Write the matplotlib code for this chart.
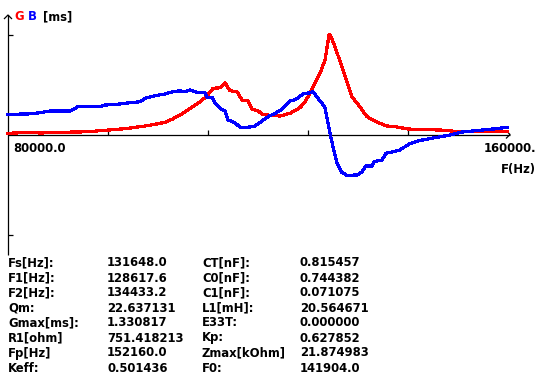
import numpy as np
import matplotlib
matplotlib.use("Agg")
import matplotlib.pyplot as plt

W, H = 538, 382

# frequency sweep in Hz, conductance G and susceptance B in mS
freq_g = [80000, 83520, 85120, 88320, 93120, 94720, 97600, 99520, 101920, 103520,
          105120, 106240, 107520, 109120, 110720, 111840, 112800, 113920, 114720, 115520,
          116640, 117440, 118400, 119040, 120000, 120640, 121920, 123520, 125120, 126720,
          127520, 128320, 129120, 129920, 130720, 131360, 131520, 132000, 133120, 134240,
          135040, 136320, 137440, 139040, 140640, 142240, 144000, 145920, 149120, 152320,
          159840]
g_ms = [0.016, 0.029, 0.020, 0.029, 0.037, 0.051, 0.069, 0.086, 0.113, 0.136,
        0.162, 0.202, 0.259, 0.348, 0.436, 0.512, 0.614, 0.622, 0.689, 0.583,
        0.569, 0.459, 0.450, 0.335, 0.317, 0.269, 0.255, 0.246, 0.282, 0.357,
        0.436, 0.548, 0.681, 0.814, 0.991, 1.324, 1.324, 1.235, 0.978, 0.702,
        0.503, 0.366, 0.237, 0.166, 0.113, 0.100, 0.073, 0.066, 0.060, 0.037,
        0.037]

freq_b = [80000, 83200, 85120, 86720, 89920, 91200, 94720, 95520, 97920, 99520,
          101120, 101920, 103520, 105120, 105920, 107200, 108480, 109120, 110080, 111520,
          111840, 112640, 113120, 113920, 114720, 115200, 116320, 117120, 118400, 119520,
          120640, 121600, 122720, 123840, 125120, 126080, 127200, 128320, 128800, 129600,
          130240, 130720, 131520, 132000, 132640, 133440, 134240, 135840, 136640, 137280,
          138240, 138560, 139840, 140480, 141600, 142720, 143520, 144320, 145920, 148000,
          150720, 152640, 155040, 157600, 159840]
b_ms = [0.269, 0.273, 0.290, 0.313, 0.313, 0.370, 0.370, 0.392, 0.406, 0.423,
        0.436, 0.481, 0.516, 0.539, 0.561, 0.579, 0.575, 0.592, 0.565, 0.556,
        0.495, 0.495, 0.415, 0.348, 0.313, 0.193, 0.157, 0.096, 0.096, 0.113,
        0.180, 0.237, 0.282, 0.335, 0.446, 0.468, 0.539, 0.556, 0.570, 0.481,
        0.415, 0.353, 0.016, -0.162, -0.383, -0.508, -0.543, -0.539, -0.495, -0.419,
        -0.419, -0.362, -0.339, -0.250, -0.229, -0.206, -0.162, -0.120, -0.080, -0.047,
        -0.007, 0.033, 0.053, 0.073, 0.096]

f_min, f_max = 80000.0, 160000.0
g_max = 1.330817
x_ticks = [96000, 112000, 128000, 144000]
x_labels = ["80000.0", "160000."]
x_title = "F(Hz)"

labels_left = ["Fs[Hz]:", "F1[Hz]:", "F2[Hz]:", "Qm:", "Gmax[ms]:", "R1[ohm]", "Fp[Hz]", "Keff:"]
values_left = ["131648.0", "128617.6", "134433.2", "22.637131", "1.330817", "751.418213", "152160.0", "0.501436"]
labels_right = ["CT[nF]:", "C0[nF]:", "C1[nF]:", "L1[mH]:", "E33T:", "Kp:", "Zmax[kOhm]", "F0:"]
values_right = ["0.815457", "0.744382", "0.071075", "20.564671", "0.000000", "0.627852", "21.874983", "141904.0"]

plt.rcParams["font.family"] = ["DejaVu Sans"]
fig = plt.figure(figsize=(W / 100, H / 100), dpi=100)
fig.patch.set_facecolor("white")

# pixel geometry of the plot area: x 8..508 -> f_min..f_max, zero line at y=134.5, +-100 px = +-Gmax
px_per_hz = 500 / (f_max - f_min)
ms_per_px = g_max / 100
x0_px, y0_px = 8, 134.5
ax_left, ax_right, ax_top, ax_bottom = 0, 538, 0, 262
ax = fig.add_axes([ax_left / W, 1 - ax_bottom / H, (ax_right - ax_left) / W, (ax_bottom - ax_top) / H])
ax.set_xlim(f_min - (x0_px - ax_left) / px_per_hz, f_min + (ax_right - x0_px) / px_per_hz)
ax.set_ylim(-(ax_bottom - y0_px) * ms_per_px, (y0_px - ax_top) * ms_per_px)
ax.axis("off")

k = dict(color="black", lw=0.9, solid_capstyle="butt", clip_on=False)
y_top = (y0_px - 15) * ms_per_px
y_bot = -(255 - y0_px) * ms_per_px
x_end = f_min + (510 - x0_px) / px_per_hz
ax.plot([f_min, f_min], [y_bot, y_top], **k)
ax.plot([f_min, x_end], [0, 0], **k)
# arrow heads
ah_x, ah_y = 4 / px_per_hz, 4 * ms_per_px
ax.plot([f_min - ah_x, f_min, f_min + ah_x], [y_top - ah_y, y_top, y_top - ah_y], **k)
ax.plot([x_end - ah_x, x_end, x_end - ah_x], [ah_y, 0, -ah_y], **k)
# ticks
for xt in x_ticks:
    ax.plot([xt, xt], [0, 4.5 * ms_per_px], **k)
for yt in [g_max, -g_max]:
    ax.plot([f_min, f_min + 4.5 / px_per_hz], [yt, yt], **k)

ax.plot(freq_g, g_ms, color="#ff0000", lw=1.6, antialiased=False)
ax.plot(freq_b, b_ms, color="#0000ff", lw=1.6, antialiased=False)


def ptext(x, y, s, color="black", ha="left"):
    fig.text(x / W, 1 - y / H, s, color=color, ha=ha, va="center",
             fontsize=8.4, fontweight="bold")


ptext(14, 17, "G", color="#ff0000")
ptext(28, 17, "B", color="#0000ff")
ptext(43, 17, "[ms]")
ptext(13, 148, x_labels[0])
ptext(536, 148, x_labels[1], ha="right")
ptext(536, 169, x_title, ha="right")

row_y = [263 + 15 * i for i in range(len(labels_left))]
for i, y in enumerate(row_y):
    ptext(8, y, labels_left[i])
    ptext(107, y, values_left[i])
    ptext(202, y, labels_right[i])
    ptext(300, y, values_right[i])

fig.savefig("out.png", dpi=100, facecolor="white")
